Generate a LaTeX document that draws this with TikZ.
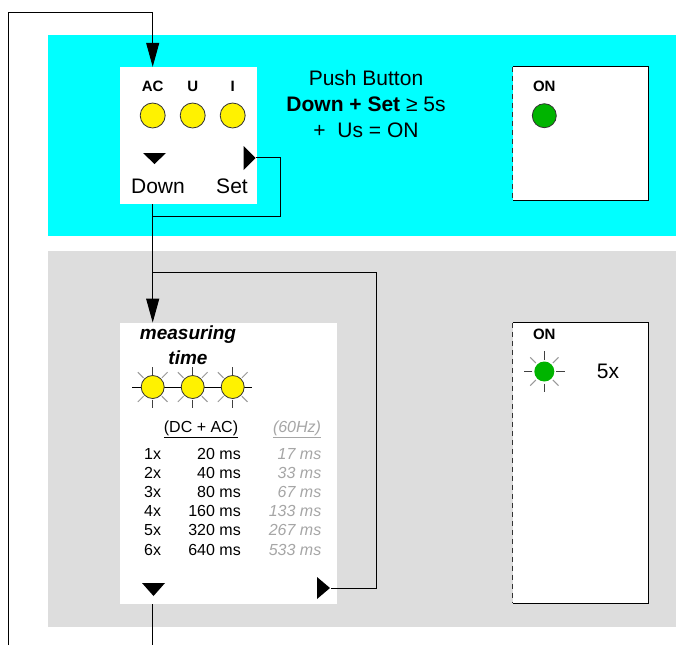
\documentclass[tikz,border=0pt]{standalone}
\usepackage{fontspec}
\setmainfont{Liberation Sans}
\usetikzlibrary{positioning,arrows.meta}
\definecolor{bandcyan}{RGB}{0,255,255}
\definecolor{bandgray}{RGB}{221,221,221}
\definecolor{ledgreen}{RGB}{0,180,0}
\tikzset{
  panel/.style={fill=white,inner sep=0pt},
  lamp/.style={circle,fill=yellow,draw=black!80,line width=0.8pt,minimum size=25pt,inner sep=0pt},
  tag/.style={font=\bfseries\fontsize{15}{15}\selectfont,inner sep=0pt},
  key/.style={font=\fontsize{21}{21}\selectfont,inner sep=0pt},
  cell/.style={font=\fontsize{16}{16}\selectfont,inner sep=0pt},
  hzcell/.style={cell,font=\itshape\fontsize{16}{16}\selectfont,text=black!35},
  flow/.style={line width=1pt,-{Triangle[width=13pt,length=24pt]}},
  wire/.style={line width=1pt},
  ray/.style={line width=1pt,black!40},
  darkray/.style={line width=1pt,black!75},
}

\begin{document}
\begin{tikzpicture}[x=1pt,y=-1pt]
  \useasboundingbox (0,0) rectangle (676,645);

  % bands
  \fill[bandcyan] (48,35) rectangle (676,236);
  \fill[bandgray] (48,251) rectangle (676,627);

  % keypad
  \node[panel,minimum width=137pt,minimum height=137pt] (keys) at (188.5,135.5) {};
  \node[tag] (tAC) at (152.7,86) {AC};
  \node[tag] (tU) at (192.7,86) {U};
  \node[tag] (tI) at (232.7,86) {I};
  \node[lamp] (lAC) at (152.7,115.5) {};
  \node[lamp] (lU) at (192.7,115.5) {};
  \node[lamp] (lI) at (232.7,115.5) {};
  \fill (143,153) -- (166,153) -- (154.5,164) -- cycle;
  \fill (243.5,146) -- (255.5,158) -- (243.5,170) -- cycle;
  \coordinate (setA) at (256,157);
  \node[key] (down) at (158,186) {Down};
  \node[key] (set) at (232,186) {Set};

  % hint text
  \node[key,align=center,font=\fontsize{21}{26}\selectfont] (hint) at (366,104)
    {Push Button\\\textbf{Down + Set} ≥ 5s\\+~~Us = ON};

  % display, top
  \node[panel,minimum width=135pt,minimum height=133pt] (onA) at (580.5,133.5) {};
  \draw[line width=1pt] (onA.north west) -- (onA.north east) -- (onA.south east) -- (onA.south west);
  \draw[line width=1pt,dashed,dash pattern=on 5pt off 4pt,black!80] (onA.north west) -- (onA.south west);
  \node[tag] (onAtxt) at (544.3,86) {ON};
  \node[lamp,fill=ledgreen,minimum size=24pt] (gA) at (544.3,115.7) {};

  % measuring panel
  \node[panel,minimum width=217pt,minimum height=281pt] (meas) at (228.7,463.3) {};
  \node[tag,font=\bfseries\itshape\fontsize{19}{19}\selectfont] (mtA) at (188,335) {measuring};
  \node[tag,font=\bfseries\itshape\fontsize{19}{19}\selectfont] (mtB) at (188,357.5) {time};
  \draw[line width=1pt] (132,387) -- (252,387);
  \node[lamp,minimum size=23pt] (mA) at (152.7,387) {};
  \node[lamp,minimum size=23pt] (mB) at (192.7,387) {};
  \node[lamp,minimum size=23pt] (mC) at (232.7,387) {};
  \foreach \l in {mA,mB,mC}{
    \foreach \a in {45,135,225,315}
      \draw[ray] (\l.center) ++(\a:13) -- ++(\a:8);
    \foreach \a in {90,270}
      \draw[darkray] (\l.center) ++(\a:12.5) -- ++(\a:8);
  }
  \node[cell] (dcac) at (201,429) {\underline{(DC + AC)}};
  \node[hzcell] (hz) at (297,429) {\underline{(60Hz)}};
  \foreach \n/\dc/\hzv [count=\i from 0] in {1x/20/17,2x/40/33,3x/80/67,4x/160/133,5x/320/267,6x/640/533}{
    \node[cell,anchor=base west] (n\i) at (144,{459+19.2*\i}) {\n};
    \node[cell,anchor=base east] (d\i) at (241,{459+19.2*\i}) {\dc\ ms};
    \node[hzcell,anchor=base east] (h\i) at (321.5,{459+19.2*\i}) {\hzv\ ms};
  }
  \fill (142,583) -- (165,583) -- (153.5,596) -- cycle;
  \fill (317,577) -- (330,588) -- (317,599) -- cycle;
  \coordinate (setB) at (331,588.5);

  % display, bottom
  \node[panel,minimum width=135pt,minimum height=280pt] (onB) at (580.5,463) {};
  \draw[line width=1pt] (onB.north west) -- (onB.north east) -- (onB.south east) -- (onB.south west);
  \draw[line width=1pt,dashed,dash pattern=on 5pt off 4pt,black!80] (onB.north west) -- (onB.south west);
  \node[tag] (onBtxt) at (544.3,334) {ON};
  \node[circle,fill=ledgreen,minimum size=20pt,inner sep=0pt] (gB) at (544.3,371.5) {};
  \foreach \a in {0,90,180,270}
    \draw[darkray] (gB.center) ++(\a:12) -- ++(\a:8.5);
  \foreach \a in {45,135,225,315}
    \draw[ray] (gB.center) ++(\a:12) -- ++(\a:8);
  \node[key] (times) at (608,371.7) {5x};

  % connectors
  \coordinate (feed) at (8,645);
  \coordinate (exit) at (152.7,645);
  \coordinate (joinA) at (152.7,216.5);
  \coordinate (joinB) at (152.7,272);
  \draw[flow] (feed) |- (152.7,12.5) -- (tAC |- keys.north);
  \draw[flow] (tAC |- keys.south) -- (tAC |- meas.north);
  \draw[wire] (setA) -- ++(24,0) |- (joinA);
  \draw[wire] (setB) -- ++(45,0) |- (joinB);
  \draw[wire] (tAC |- meas.south) -- (exit);
\end{tikzpicture}
\end{document}
